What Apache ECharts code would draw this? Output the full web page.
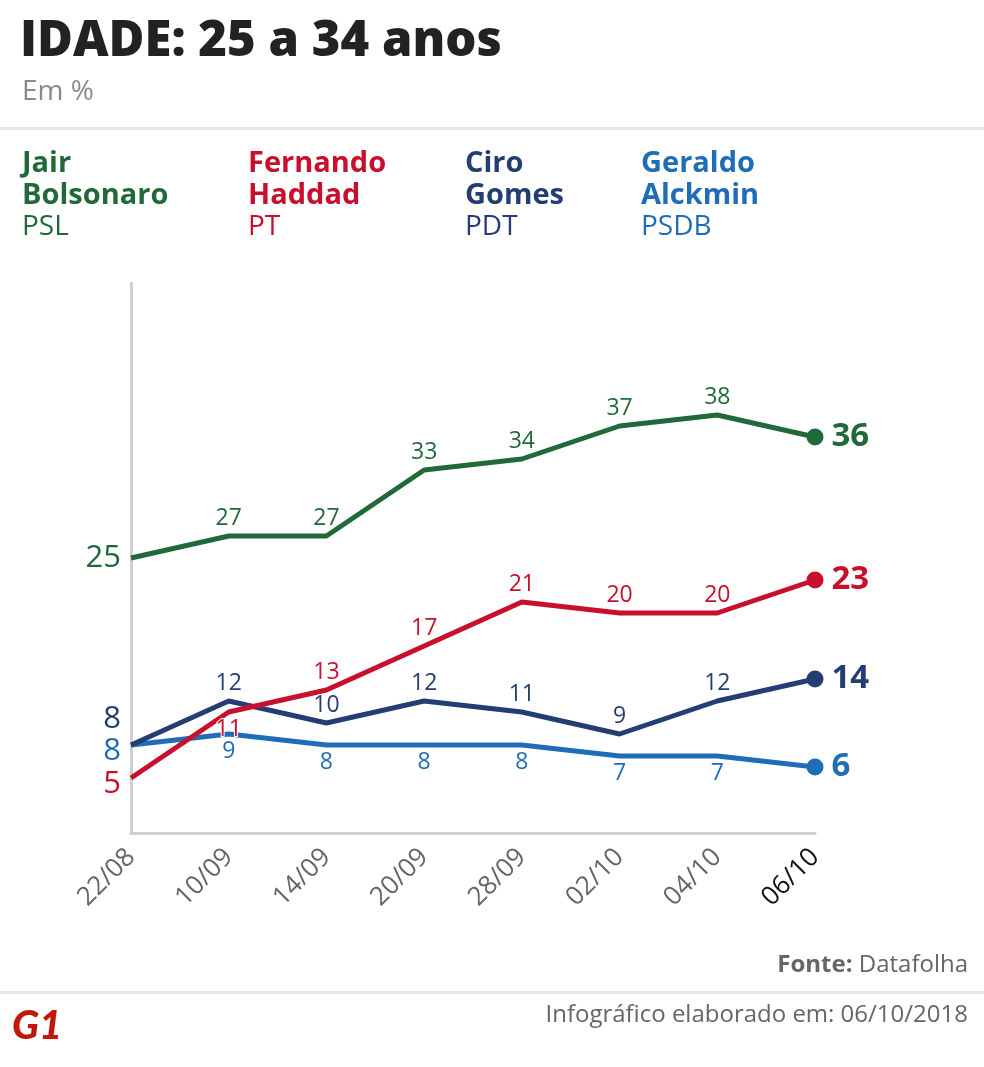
<!DOCTYPE html>
<html>
<head>
<meta charset="utf-8">
<script src="https://cdn.jsdelivr.net/npm/echarts@6/dist/echarts.min.js"></script>
<style>
  html, body { margin: 0; padding: 0; background: #fff; }
  #chart { width: 984px; height: 1067px; }
</style>
</head>
<body>
<div id="chart"></div>
<script>
const dates = ['22/08', '10/09', '14/09', '20/09', '28/09', '02/10', '04/10', '06/10']
const bolsonaro = [25, 27, 27, 33, 34, 37, 38, 36]
const haddad = [5, 11, 13, 17, 21, 20, 20, 23]
const ciro = [8, 12, 10, 12, 11, 9, 12, 14]
const alckmin = [8, 9, 8, 8, 8, 7, 7, 6]

const GREEN = '#22693a'
const RED = '#c8102e'
const NAVY = '#243e73'
const BLUE = '#1f6db6'
const FONT = '"Open Sans", "Noto Sans", sans-serif'

// builds the points: first value labelled on the left, last one with dot and bold label
function points(values, firstOffset, exceptions) {
  return values.map((v, i) => {
    const item = { value: v }
    if (i === 0) {
      item.label = { position: 'left', distance: 10, fontSize: 31, offset: firstOffset }
    } else if (i === values.length - 1) {
      item.symbolSize = 17
      item.label = { position: 'right', distance: 8, fontSize: 33, fontWeight: 'bold' }
    } else if (exceptions && exceptions[i]) {
      item.label = { position: exceptions[i] }
    }
    return item
  })
}

function line(name, values, color, pos, firstOffset, exceptions) {
  return {
    name: name,
    type: 'line',
    data: points(values, firstOffset, exceptions),
    symbol: 'circle',
    symbolSize: 0,
    showAllSymbol: true,
    itemStyle: { color: color },
    lineStyle: { color: color, width: 5 },
    label: {
      show: true,
      position: pos,
      distance: 6,
      color: color,
      fontSize: 23,
      fontFamily: FONT,
      textBorderColor: '#fff',
      textBorderWidth: 2
    },
    emphasis: { disabled: true },
    animation: false
  }
}

const chart = echarts.init(document.getElementById('chart'))

const legend = [
  { x: 22, name: ['Jair', 'Bolsonaro'], party: 'PSL', color: GREEN },
  { x: 248, name: ['Fernando', 'Haddad'], party: 'PT', color: RED },
  { x: 465, name: ['Ciro', 'Gomes'], party: 'PDT', color: NAVY },
  { x: 641, name: ['Geraldo', 'Alckmin'], party: 'PSDB', color: BLUE }
]
const legendTexts = []
legend.forEach(l => {
  legendTexts.push({ type: 'text', left: l.x, top: 149, style: { text: l.name[0], font: 'bold 29px ' + FONT, fill: l.color } })
  legendTexts.push({ type: 'text', left: l.x, top: 181, style: { text: l.name[1], font: 'bold 29px ' + FONT, fill: l.color } })
  legendTexts.push({ type: 'text', left: l.x, top: 213, style: { text: l.party, font: '28px ' + FONT, fill: l.color } })
})

chart.setOption({
  backgroundColor: '#fff',
  grid: { left: 131, right: 169, top: 283, bottom: 234 },
  xAxis: {
    type: 'category',
    data: dates,
    boundaryGap: false,
    axisLine: { lineStyle: { color: '#d0d0d0', width: 3 } },
    axisTick: { show: false },
    axisLabel: {
      rotate: 45,
      margin: 20,
      fontSize: 26,
      fontFamily: FONT,
      color: (v, i) => (i === dates.length - 1 ? '#111' : '#666')
    }
  },
  yAxis: {
    type: 'value',
    min: 0,
    max: 50,
    axisLine: { show: true, lineStyle: { color: '#d0d0d0', width: 3 } },
    axisTick: { show: false },
    axisLabel: { show: false },
    splitLine: { show: false }
  },
  series: [
    line('Geraldo Alckmin', alckmin, BLUE, 'bottom', [0, 6]),
    line('Ciro Gomes', ciro, NAVY, 'top', [0, -26]),
    line('Fernando Haddad', haddad, RED, 'top', [0, 6], { 1: 'bottom' }),
    line('Jair Bolsonaro', bolsonaro, GREEN, 'top', [0, 0])
  ],
  graphic: [
    { type: 'text', left: 20, top: 18, style: { text: 'IDADE: 25 a 34 anos', font: '800 49px ' + FONT, fill: '#222' } },
    { type: 'text', left: 22, top: 78, style: { text: 'Em %', font: '28px ' + FONT, fill: '#8a8a8a' } },
    { type: 'rect', left: 0, top: 127, shape: { width: 984, height: 3 }, style: { fill: '#e6e6e6' } },
    ...legendTexts,
    { type: 'text', right: 16, top: 953, style: { text: '{a|Fonte:} Datafolha', font: '24px ' + FONT, fill: '#666', rich: { a: { fontWeight: 'bold', fontSize: 24, fontFamily: FONT, color: '#555' } } } },
    { type: 'rect', left: 0, top: 991, shape: { width: 984, height: 3 }, style: { fill: '#e6e6e6' } },
    { type: 'text', right: 16, top: 1003, style: { text: 'Infográfico elaborado em: 06/10/2018', font: '24px ' + FONT, fill: '#666' } },
    { type: 'text', left: 12, top: 1006, style: { text: 'G1', font: 'italic 900 40px Lato, ' + FONT, fill: '#c4170c' } }
  ]
})
</script>
</body>
</html>
